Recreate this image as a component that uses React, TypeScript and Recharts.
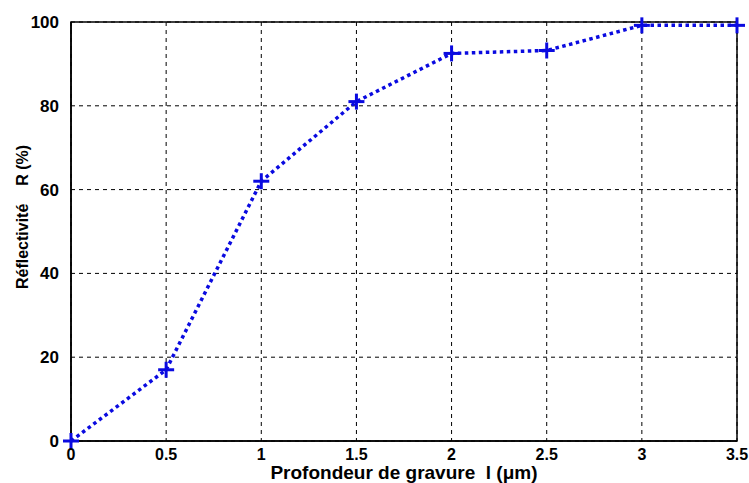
import { LineChart, Line, XAxis, YAxis, CartesianGrid, ReferenceArea } from 'recharts';

const depths = [0, 0.5, 1, 1.5, 2, 2.5, 3, 3.5];
const reflectivity = [0, 17, 62, 81, 92.5, 93.2, 99.2, 99.2];
const xTicks = [0, 0.5, 1, 1.5, 2, 2.5, 3, 3.5];
const yTicks = [0, 20, 40, 60, 80, 100];

const data = depths.map((d, i) => ({ depth: d, r: reflectivity[i] }));

const FONT = "'Liberation Sans', Arial, sans-serif";
const BLUE = '#0a0ae0';

function PlusMarker(props: any) {
  const { cx, cy } = props;
  if (cx == null || cy == null) return null;
  return (
    <g>
      <line x1={cx - 8} y1={cy} x2={cx + 8} y2={cy} stroke={BLUE} strokeWidth={3} />
      <line x1={cx} y1={cy - 8} x2={cx} y2={cy + 8} stroke={BLUE} strokeWidth={3} />
    </g>
  );
}

const XLabel = () => (
  <text
    x={404}
    y={479}
    textAnchor="middle"
    style={{ fill: '#000', fontSize: 19, fontWeight: 700, fontFamily: FONT, whiteSpace: 'pre' }}
  >
    {'Profondeur de gravure  l (μm)'}
  </text>
);

const YLabel = () => (
  <text
    x={0}
    y={0}
    transform="translate(28 217) rotate(-90)"
    textAnchor="middle"
    style={{ fill: '#000', fontSize: 16, fontWeight: 700, fontFamily: FONT, whiteSpace: 'pre' }}
  >
    {'Réflectivité    R (%)'}
  </text>
);

export default function App() {
  return (
    <div style={{ position: 'absolute', left: 0, top: 0, width: 749, height: 483, background: '#fff' }}>
      <LineChart
        width={749}
        height={483}
        data={data}
        margin={{ top: 22, right: 12, bottom: 12, left: 0 }}
      >
        <CartesianGrid stroke="#000" strokeDasharray="4 4" strokeWidth={1} />
        <ReferenceArea x1={0} x2={3.5} y1={0} y2={100} fill="none" stroke="#000" strokeWidth={1.5} />
        <XAxis
          dataKey="depth"
          type="number"
          domain={[0, 3.5]}
          ticks={xTicks}
          tickLine={false}
          axisLine={{ stroke: '#000', strokeWidth: 1.5 }}
          height={30}
          tick={{ fill: '#000', fontSize: 16, fontWeight: 700, fontFamily: FONT }}
          tickMargin={2}
          label={<XLabel />}
        />
        <YAxis
          type="number"
          domain={[0, 100]}
          ticks={yTicks}
          tickLine={false}
          axisLine={{ stroke: '#000', strokeWidth: 1.5 }}
          width={71}
          tick={{ fill: '#000', fontSize: 17, fontWeight: 700, fontFamily: FONT }}
          tickMargin={6}
          label={<YLabel />}
        />
        <Line
          dataKey="r"
          type="linear"
          stroke={BLUE}
          strokeWidth={3.5}
          strokeDasharray="3.5 3.5"
          dot={<PlusMarker />}
          activeDot={false}
          isAnimationActive={false}
        />
      </LineChart>
    </div>
  );
}
